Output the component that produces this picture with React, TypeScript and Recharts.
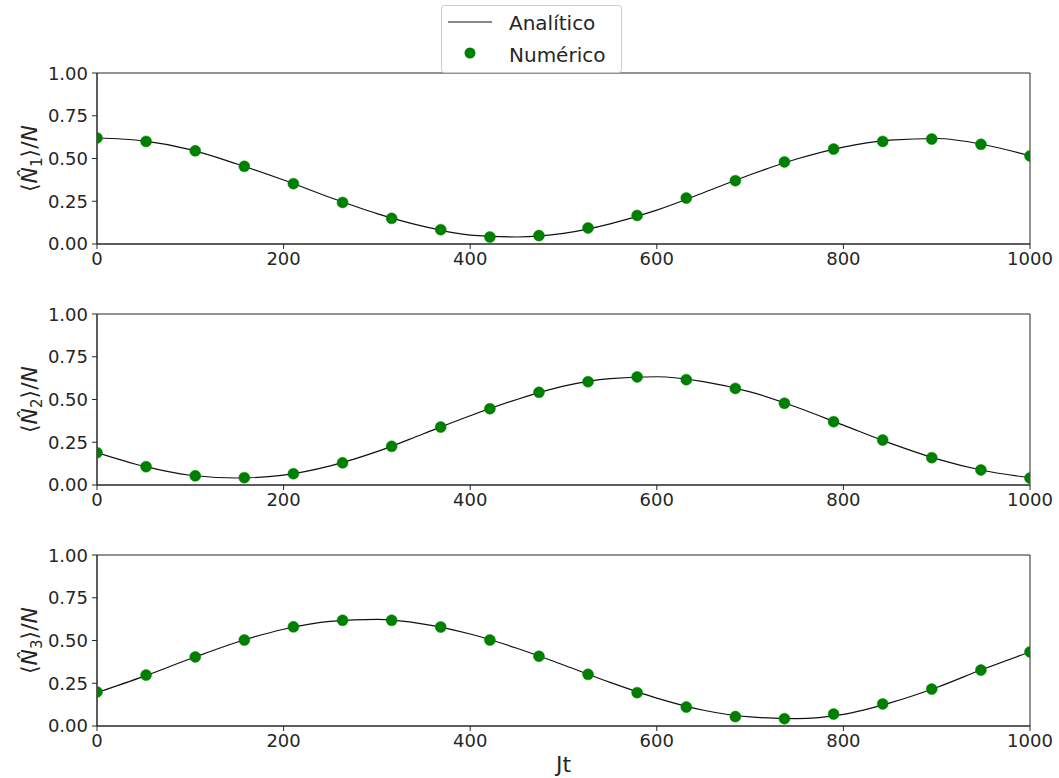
import React from 'react';
import { ComposedChart, Line, XAxis, YAxis, ReferenceArea } from 'recharts';

// time grid of the analytic curve and of the numeric samples
const anaT = [0, 50, 100, 150, 200, 250, 300, 350, 400, 450, 500, 550, 600, 650, 700, 750, 800, 850, 900, 950, 1000];
const numT = [0, 52.6, 105.3, 157.9, 210.5, 263.2, 315.8, 368.4, 421.1, 473.7, 526.3, 578.9, 631.6, 684.2, 736.8, 789.5, 842.1, 894.7, 947.4, 1000];

const n1Ana = [0.62, 0.603, 0.552, 0.468, 0.374, 0.272, 0.178, 0.103, 0.052, 0.041, 0.062, 0.118, 0.198, 0.3, 0.405, 0.497, 0.567, 0.607, 0.617, 0.582, 0.515];
const n1Num = [0.62, 0.6, 0.545, 0.454, 0.353, 0.243, 0.15, 0.084, 0.041, 0.049, 0.094, 0.167, 0.269, 0.37, 0.48, 0.555, 0.6, 0.614, 0.583, 0.515];

const n2Ana = [0.19, 0.11, 0.057, 0.041, 0.058, 0.112, 0.195, 0.3, 0.405, 0.5, 0.578, 0.622, 0.633, 0.605, 0.545, 0.455, 0.35, 0.245, 0.153, 0.085, 0.043];
const n2Num = [0.189, 0.107, 0.054, 0.043, 0.066, 0.13, 0.226, 0.339, 0.446, 0.542, 0.604, 0.632, 0.616, 0.565, 0.478, 0.37, 0.263, 0.16, 0.088, 0.041];

const n3Ana = [0.195, 0.29, 0.393, 0.49, 0.566, 0.612, 0.623, 0.596, 0.538, 0.455, 0.357, 0.255, 0.163, 0.092, 0.053, 0.043, 0.068, 0.135, 0.225, 0.333, 0.433];
const n3Num = [0.199, 0.298, 0.404, 0.503, 0.58, 0.618, 0.618, 0.579, 0.503, 0.408, 0.302, 0.195, 0.111, 0.055, 0.043, 0.07, 0.129, 0.216, 0.327, 0.433];

const xTicks = [0, 200, 400, 600, 800, 1000];
const yTicks = [0, 0.25, 0.5, 0.75, 1];

const FONT = 'DejaVu Sans';
const INK = '#262626';
const GREEN = '#008000';

const tickStyle = { fill: INK, fontSize: 18, fontFamily: FONT };

const YLabel = ({ viewBox, idx }: any) => {
  const cx = 37;
  const cy = viewBox.y + viewBox.height / 2;
  return (
    <text
      x={cx}
      y={cy}
      transform={`rotate(-90 ${cx} ${cy})`}
      textAnchor="middle"
      fontFamily={FONT}
      fontSize={22}
      fill={INK}
    >
      ⟨<tspan fontStyle="italic">N&#770;</tspan>
      <tspan dy={5} fontSize={15}>{idx}</tspan>
      <tspan dy={-5}>⟩/</tspan>
      <tspan fontStyle="italic">N</tspan>
    </text>
  );
};

const XLabel = ({ viewBox }: any) => (
  <text
    x={viewBox.x + viewBox.width / 2}
    y={viewBox.y + 46}
    textAnchor="middle"
    fontFamily={FONT}
    fontSize={22}
    fill={INK}
  >
    Jt
  </text>
);

interface PanelProps {
  idx: number;
  ana: number[];
  num: number[];
  top: number;
  last?: boolean;
}

function Panel({ idx, ana, num, top, last }: PanelProps) {
  const anaData = anaT.map((t, i) => ({ t, v: ana[i] }));
  const numData = numT.map((t, i) => ({ t, v: num[i] }));
  const xH = last ? 50 : 30;
  return (
    <div style={{ position: 'absolute', left: 0, top }}>
      <ComposedChart
        width={1059}
        height={171 + 10 + xH}
        margin={{ top: 10, right: 29, bottom: 0, left: 0 }}
      >
        <XAxis
          type="number"
          dataKey="t"
          domain={[0, 1000]}
          ticks={xTicks}
          allowDataOverflow
          height={xH}
          tick={tickStyle}
          tickSize={5}
          tickMargin={3}
          axisLine={{ stroke: INK }}
          tickLine={{ stroke: INK }}
          label={last ? (p: any) => <XLabel {...p} /> : undefined}
        />
        <YAxis
          type="number"
          domain={[0, 1]}
          ticks={yTicks}
          allowDataOverflow
          width={97}
          tick={tickStyle}
          tickSize={5}
          tickMargin={4}
          tickFormatter={(v: number) => v.toFixed(2)}
          axisLine={{ stroke: INK }}
          tickLine={{ stroke: INK }}
          label={(p: any) => <YLabel {...p} idx={idx} />}
        />
        <ReferenceArea x1={0} x2={1000} y1={0} y2={1} fill="none" fillOpacity={0} stroke={INK} strokeWidth={1} />
        <Line
          data={anaData}
          dataKey="v"
          type="monotone"
          stroke="#111"
          strokeWidth={1.2}
          dot={false}
          activeDot={false}
          isAnimationActive={false}
        />
        <Line
          data={numData}
          dataKey="v"
          stroke="none"
          strokeWidth={0}
          dot={{ r: 5.5, fill: GREEN, stroke: GREEN, strokeWidth: 0.5 }}
          activeDot={false}
          isAnimationActive={false}
        />
      </ComposedChart>
    </div>
  );
}

export default function App() {
  return (
    <div
      style={{
        position: 'absolute',
        left: 0,
        top: 0,
        width: 1059,
        height: 778,
        background: '#fff',
        fontFamily: FONT,
      }}
    >
      <Panel idx={1} ana={n1Ana} num={n1Num} top={63} />
      <Panel idx={2} ana={n2Ana} num={n2Num} top={304} />
      <Panel idx={3} ana={n3Ana} num={n3Num} top={545} last />
      <svg width={1059} height={80} style={{ position: 'absolute', left: 0, top: 0 }}>
        <rect x={441.5} y={5.5} width={180} height={67} rx={3} fill="#fff" fillOpacity={0.8} stroke="#cccccc" />
        <line x1={448} x2={492} y1={22} y2={22} stroke="#111" strokeWidth={1.2} />
        <text x={509} y={30} fontFamily={FONT} fontSize={20} fill={INK}>Analítico</text>
        <circle cx={470} cy={53} r={5.5} fill={GREEN} />
        <text x={509} y={62} fontFamily={FONT} fontSize={20} fill={INK}>Numérico</text>
      </svg>
    </div>
  );
}
